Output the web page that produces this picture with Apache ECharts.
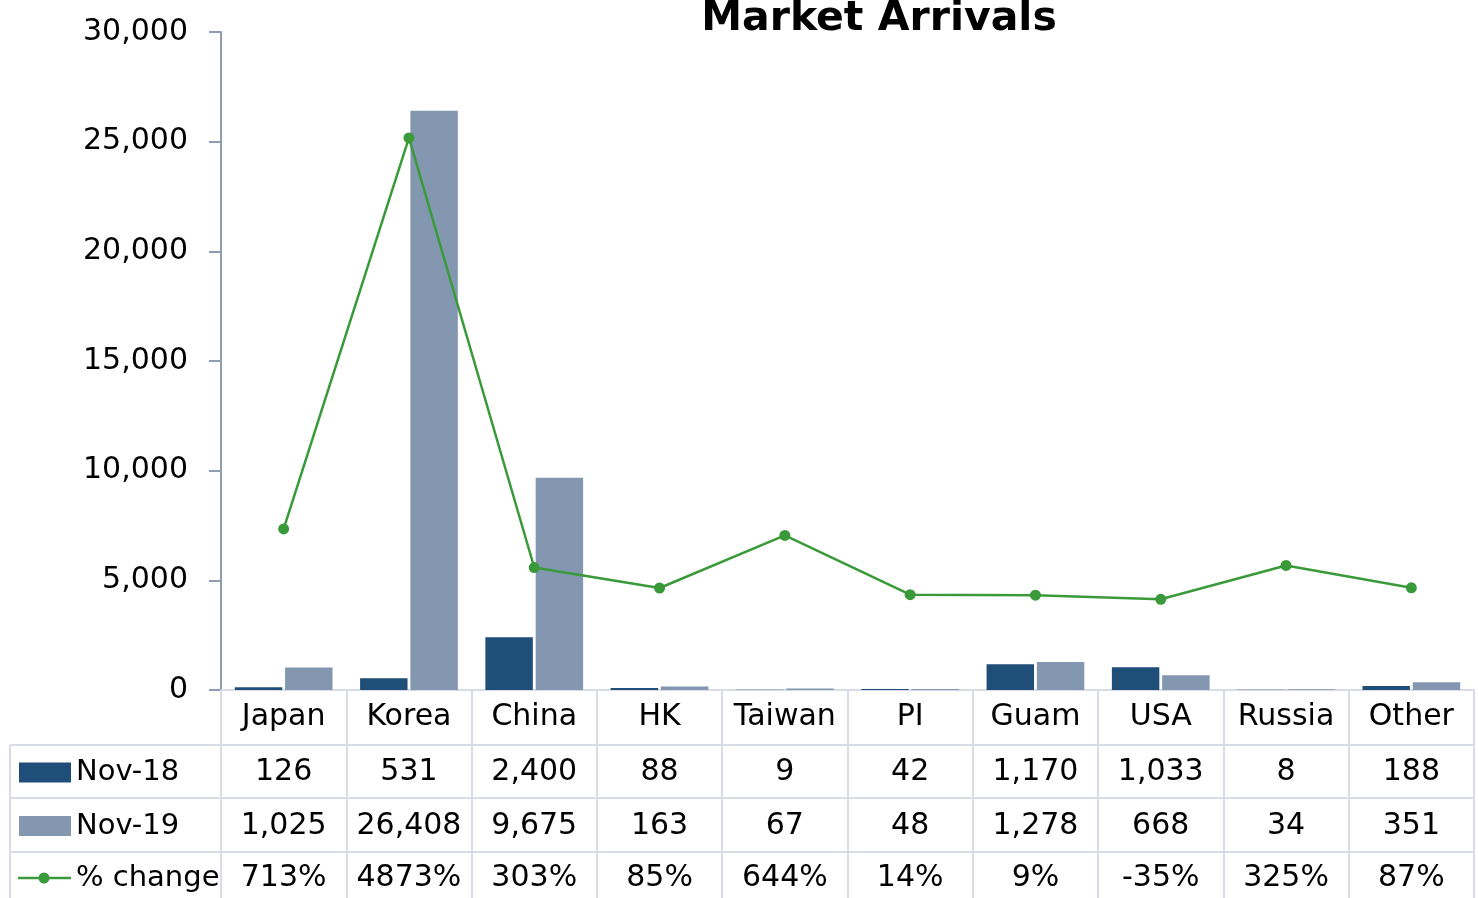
<!DOCTYPE html>
<html>
<head>
<meta charset="utf-8">
<title>Market Arrivals</title>
<script src="https://cdn.jsdelivr.net/npm/echarts@6/dist/echarts.min.js"></script>
<style>
  html, body { margin: 0; padding: 0; background: #fff; }
  #chart { width: 1478px; height: 898px; }
</style>
</head>
<body>
<div id="chart"></div>
<script>
// data
const markets = ['Japan', 'Korea', 'China', 'HK', 'Taiwan', 'PI', 'Guam', 'USA', 'Russia', 'Other']
const nov18 = [126, 531, 2400, 88, 9, 42, 1170, 1033, 8, 188]
const nov19 = [1025, 26408, 9675, 163, 67, 48, 1278, 668, 34, 351]
const pctChange = [713, 4873, 303, 85, 644, 14, 9, -35, 325, 87]

const FONT = 'DejaVu Sans'
const DARK = '#1f4e79'
const LIGHT = '#8497b0'
const GREEN = '#3a9a3a'
const GRID_LINE = '#d9dce6'

const chart = echarts.init(document.getElementById('chart'))

const fmt = v => v.toLocaleString('en-US')

chart.setOption({
  animation: false,
  textStyle: { fontFamily: FONT },
  grid: { left: 221, right: 4, top: 32, bottom: 208 },
  xAxis: {
    type: 'category',
    data: markets,
    axisLine: { lineStyle: { color: GRID_LINE, width: 2 } },
    axisTick: { show: true, interval: 0, length: 208, lineStyle: { color: GRID_LINE, width: 2 } },
    axisLabel: { interval: 0, color: '#000', fontSize: 30, fontFamily: FONT, margin: 12, verticalAlign: 'top' }
  },
  yAxis: [
    {
      type: 'value',
      min: 0,
      max: 30000,
      interval: 5000,
      splitLine: { show: false },
      axisLine: { show: true, lineStyle: { color: '#8e9cb5', width: 2 } },
      axisTick: { show: true, length: 12, lineStyle: { color: '#8e9cb5', width: 2 } },
      axisLabel: { color: '#000', fontSize: 30, fontFamily: FONT, margin: 33, formatter: v => fmt(v) }
    },
    {
      type: 'value',
      min: -1000,
      max: 6000,
      show: false,
      splitLine: { show: false }
    }
  ],
  series: [
    {
      name: 'Nov-18',
      type: 'bar',
      data: nov18,
      itemStyle: { color: DARK },
      barGap: '6%',
      barCategoryGap: '22%'
    },
    {
      name: 'Nov-19',
      type: 'bar',
      data: nov19,
      itemStyle: { color: LIGHT }
    },
    {
      name: '% change',
      type: 'line',
      yAxisIndex: 1,
      data: pctChange,
      symbol: 'circle',
      symbolSize: 11,
      lineStyle: { color: GREEN, width: 2.5 },
      itemStyle: { color: GREEN }
    }
  ]
})

// data table under the axis
const rowY = [745, 798, 852, 898]
const leftX = 10
const rightX = 1474
const plotLeft = 221
const g = []

g.push({
  type: 'text',
  x: 879, y: 19,
  style: { text: 'Market Arrivals', fontFamily: FONT, fontSize: 41, fontWeight: 'bold', fill: '#000', align: 'center', verticalAlign: 'middle' }
})

rowY.slice(0, 3).forEach(y => {
  g.push({ type: 'line', shape: { x1: leftX, y1: y, x2: rightX, y2: y }, style: { stroke: GRID_LINE, lineWidth: 2 } })
})
g.push({ type: 'line', shape: { x1: leftX, y1: 745, x2: leftX, y2: 898 }, style: { stroke: GRID_LINE, lineWidth: 2 } })
g.push({ type: 'line', shape: { x1: plotLeft, y1: 690, x2: plotLeft, y2: 898 }, style: { stroke: GRID_LINE, lineWidth: 2 } })

const rows = [
  { name: 'Nov-18', values: nov18.map(fmt), key: 'rect', color: DARK },
  { name: 'Nov-19', values: nov19.map(fmt), key: 'rect', color: LIGHT },
  { name: '% change', values: pctChange.map(v => v + '%'), key: 'line', color: GREEN }
]

rows.forEach((r, i) => {
  const cy = (rowY[i] + rowY[i + 1]) / 2 + (i === 2 ? 3 : 1)
  if (r.key === 'rect') {
    g.push({ type: 'rect', shape: { x: 19, y: cy - 10, width: 52, height: 20 }, style: { fill: r.color } })
  } else {
    g.push({ type: 'line', shape: { x1: 18, y1: cy, x2: 71, y2: cy }, style: { stroke: r.color, lineWidth: 2.5 } })
    g.push({ type: 'circle', shape: { cx: 44, cy: cy, r: 5.5 }, style: { fill: r.color } })
  }
  g.push({
    type: 'text', x: 76, y: cy,
    style: { text: r.name, fontFamily: FONT, fontSize: 29, fill: '#000', align: 'left', verticalAlign: 'middle' }
  })
  r.values.forEach((v, j) => {
    const x = chart.convertToPixel({ xAxisIndex: 0 }, markets[j])
    g.push({
      type: 'text', x: x, y: cy,
      style: { text: v, fontFamily: FONT, fontSize: 30, fill: '#000', align: 'center', verticalAlign: 'middle' }
    })
  })
})

chart.setOption({ graphic: g })
</script>
</body>
</html>
